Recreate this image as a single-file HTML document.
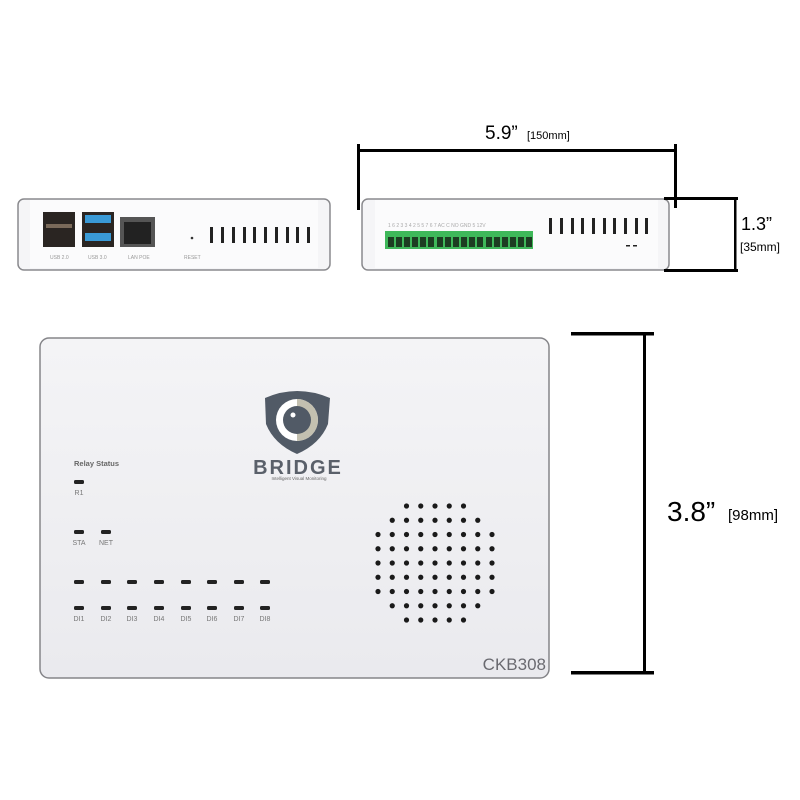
<!DOCTYPE html>
<html><head><meta charset="utf-8"><style>
html,body{margin:0;padding:0;background:#fff;width:800px;height:800px;overflow:hidden}
svg{display:block;font-family:"Liberation Sans",sans-serif}
</style></head><body>
<svg width="800" height="800" viewBox="0 0 800 800" xmlns="http://www.w3.org/2000/svg">
<defs>
<linearGradient id="dev" x1="0" y1="0" x2="0" y2="1"><stop offset="0" stop-color="#f4f4f6"/><stop offset="1" stop-color="#eaeaee"/></linearGradient>
</defs>
<rect x="18" y="199" width="312" height="71" rx="6" fill="#f5f5f7" stroke="#8a8a8e" stroke-width="1.5"/>
<rect x="30" y="200" width="288" height="68" fill="#fbfbfc"/>
<rect x="43" y="212" width="32" height="35" fill="#2a2522"/>
<rect x="46" y="224" width="26" height="4" fill="#7a6a5a"/>
<rect x="82" y="212" width="32" height="35" fill="#2a2522"/>
<rect x="85" y="215" width="26" height="8" fill="#3a9ad6"/>
<rect x="85" y="233" width="26" height="8" fill="#3a9ad6"/>
<rect x="120" y="217" width="35" height="30" fill="#555"/>
<rect x="124" y="222" width="27" height="22" fill="#222"/>
<circle cx="192" cy="238" r="1.3" fill="#333"/>
<g fill="#222">
<rect x="210" y="227" width="3" height="16"/><rect x="221" y="227" width="3" height="16"/><rect x="232" y="227" width="3" height="16"/><rect x="243" y="227" width="3" height="16"/><rect x="253" y="227" width="3" height="16"/><rect x="264" y="227" width="3" height="16"/><rect x="275" y="227" width="3" height="16"/><rect x="286" y="227" width="3" height="16"/><rect x="296" y="227" width="3" height="16"/><rect x="307" y="227" width="3" height="16"/>
</g>
<g font-size="5" fill="#999"><text x="50" y="259">USB 2.0</text><text x="88" y="259">USB 3.0</text><text x="128" y="259">LAN POE</text><text x="184" y="259">RESET</text></g>
<rect x="362" y="199" width="307" height="71" rx="6" fill="#f5f5f7" stroke="#8a8a8e" stroke-width="1.5"/>
<rect x="375" y="200" width="283" height="68" fill="#fbfbfc"/>
<rect x="385" y="231" width="148" height="18" fill="#3fb85a"/>
<g fill="#1d3d22">
<rect x="388" y="237" width="6" height="10"/><rect x="396" y="237" width="6" height="10"/><rect x="404" y="237" width="6" height="10"/><rect x="412" y="237" width="6" height="10"/><rect x="420" y="237" width="6" height="10"/><rect x="428" y="237" width="6" height="10"/>
<rect x="437" y="237" width="6" height="10"/><rect x="445" y="237" width="6" height="10"/><rect x="453" y="237" width="6" height="10"/><rect x="461" y="237" width="6" height="10"/><rect x="469" y="237" width="6" height="10"/><rect x="477" y="237" width="6" height="10"/>
<rect x="486" y="237" width="6" height="10"/><rect x="494" y="237" width="6" height="10"/><rect x="502" y="237" width="6" height="10"/><rect x="510" y="237" width="6" height="10"/><rect x="518" y="237" width="6" height="10"/><rect x="526" y="237" width="6" height="10"/>
</g>
<text x="388" y="227" font-size="5" fill="#aaa">1 6 2 3 3 4   2 5 5 7 6 7   AC C  NO GND 5 12V</text>
<g fill="#222">
<rect x="549" y="218" width="3" height="16"/><rect x="560" y="218" width="3" height="16"/><rect x="571" y="218" width="3" height="16"/><rect x="581" y="218" width="3" height="16"/><rect x="592" y="218" width="3" height="16"/><rect x="603" y="218" width="3" height="16"/><rect x="613" y="218" width="3" height="16"/><rect x="624" y="218" width="3" height="16"/><rect x="635" y="218" width="3" height="16"/><rect x="645" y="218" width="3" height="16"/>
<rect x="626" y="245" width="4" height="1.5"/><rect x="633" y="245" width="4" height="1.5"/>
</g>
<g fill="#000">
<rect x="359" y="149" width="317" height="3"/>
<rect x="357" y="144" width="3" height="66"/>
<rect x="674" y="144" width="3" height="64"/>
<rect x="664" y="197" width="74" height="3"/>
<rect x="664" y="269" width="74" height="3"/>
<rect x="734" y="199" width="2.5" height="71"/>
<rect x="571" y="332" width="83" height="3.5"/>
<rect x="571" y="671" width="83" height="3.5"/>
<rect x="643" y="334" width="3" height="339"/>
</g>
<text x="485" y="139" font-size="19">5.9”</text><text x="527" y="139" font-size="11">[150mm]</text>
<text x="741" y="230" font-size="18">1.3”</text><text x="740" y="251" font-size="12">[35mm]</text>
<text x="667" y="521" font-size="28">3.8”</text><text x="728" y="520" font-size="15">[98mm]</text>
<rect x="40" y="338" width="509" height="340" rx="9" fill="url(#dev)" stroke="#858589" stroke-width="1.5"/>
<path d="M265 398 Q297 384 330 398 L328 424 Q320 444 297 454 Q274 444 266 424 Z" fill="#515a66"/>
<circle cx="297" cy="420" r="21" fill="#fff"/>
<path d="M297 399 A21 21 0 0 1 297 441 Z" fill="#c3c0b0"/>
<circle cx="297" cy="420" r="14" fill="#515a66"/>
<circle cx="293" cy="415" r="2.5" fill="#fff"/>
<text x="298" y="474" font-size="20" font-weight="bold" fill="#5a606a" text-anchor="middle" letter-spacing="2">BRIDGE</text>
<text x="299" y="480" font-size="4.5" fill="#666" text-anchor="middle">Intelligent Visual Monitoring</text>
<text x="74" y="466" font-size="7.5" font-weight="bold" fill="#666">Relay Status</text>
<g fill="#222">
<rect x="74" y="480" width="10" height="4" rx="1.5"/>
<rect x="74" y="530" width="10" height="4" rx="1.5"/><rect x="101" y="530" width="10" height="4" rx="1.5"/>
<rect x="74" y="580" width="10" height="4" rx="1.5"/><rect x="101" y="580" width="10" height="4" rx="1.5"/><rect x="127" y="580" width="10" height="4" rx="1.5"/><rect x="154" y="580" width="10" height="4" rx="1.5"/><rect x="181" y="580" width="10" height="4" rx="1.5"/><rect x="207" y="580" width="10" height="4" rx="1.5"/><rect x="234" y="580" width="10" height="4" rx="1.5"/><rect x="260" y="580" width="10" height="4" rx="1.5"/>
<rect x="74" y="606" width="10" height="4" rx="1.5"/><rect x="101" y="606" width="10" height="4" rx="1.5"/><rect x="127" y="606" width="10" height="4" rx="1.5"/><rect x="154" y="606" width="10" height="4" rx="1.5"/><rect x="181" y="606" width="10" height="4" rx="1.5"/><rect x="207" y="606" width="10" height="4" rx="1.5"/><rect x="234" y="606" width="10" height="4" rx="1.5"/><rect x="260" y="606" width="10" height="4" rx="1.5"/>
</g>
<g font-size="7" fill="#777" text-anchor="middle">
<text x="79" y="495">R1</text><text x="79" y="545">STA</text><text x="106" y="545">NET</text>
<text x="79" y="621">DI1</text><text x="106" y="621">DI2</text><text x="132" y="621">DI3</text><text x="159" y="621">DI4</text><text x="186" y="621">DI5</text><text x="212" y="621">DI6</text><text x="239" y="621">DI7</text><text x="265" y="621">DI8</text>
</g>
<g id="spk" fill="#1a1a1a"></g>
<text x="546" y="670" font-size="17" fill="#6a6a70" text-anchor="end">CKB308</text>
</svg>
<script>
var g=document.getElementById('spk'),rows=[5,7,9,9,9,9,9,7,5],s=14.25,cx=435,cy=563,h='';
rows.forEach(function(n,i){var y=cy+(i-4)*s;for(var j=0;j<n;j++){var x=cx+(j-(n-1)/2)*s;h+='<circle cx="'+x+'" cy="'+y+'" r="2.6"/>';}});
g.innerHTML=h;
</script>
</body></html>
